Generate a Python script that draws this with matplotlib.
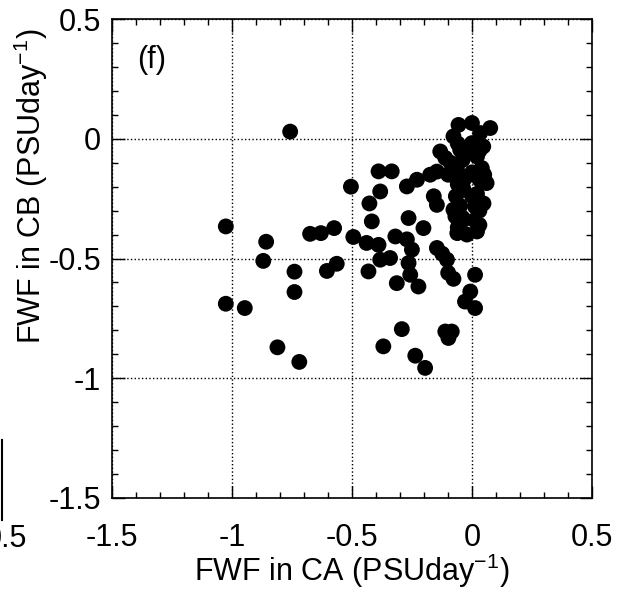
import numpy as np
import matplotlib
matplotlib.use('Agg')
import matplotlib.pyplot as plt
from matplotlib.ticker import MultipleLocator, FuncFormatter
from matplotlib.lines import Line2D

plt.rcParams['font.family'] = ['Liberation Sans', 'DejaVu Sans']

# FWF in CA (x) and FWF in CB (y), PSU/day
fwf_ca = [-1.026, -0.858, -0.870, -0.675, -0.630, -0.575, -0.740, -0.605, -0.564, -0.740,
          -1.026, -0.947, -0.811, -0.720, -0.758, -0.505, -0.495,
          -0.390, -0.335, -0.383, -0.428, -0.418, -0.440, -0.390, -0.265, -0.203,
          -0.272, -0.230, -0.175, -0.160, -0.147, -0.320, -0.272, -0.251, -0.147,
          -0.125, -0.105, -0.432, -0.383, -0.342, -0.265, -0.258, -0.314, -0.224,
          -0.100, -0.078,
          0.012, -0.008, -0.030, 0.012, -0.293, -0.112, -0.085, -0.099, -0.370,
          -0.237, -0.196,
          -0.062, -0.022, 0.020, -0.036, -0.070, 0.047, 0.060, -0.068, -0.133,
          -0.057, -0.001, 0.075, 0.033, -0.078, -0.050, 0.020, -0.064, 0.040,
          -0.147, -0.036, -0.030, 0.012, -0.078, -0.001, 0.046, -0.040, -0.112,
          -0.090, -0.020, 0.030, -0.060, 0.000, -0.100,
          -0.060, 0.030, -0.060, 0.000, 0.050, -0.040, 0.020, -0.050, 0.030,
          -0.040, 0.010, -0.060, 0.030]
fwf_cb = [-0.366, -0.430, -0.510, -0.397, -0.394, -0.373, -0.555, -0.552, -0.522, -0.640,
          -0.689, -0.707, -0.871, -0.932, 0.030, -0.200, -0.410,
          -0.136, -0.136, -0.220, -0.270, -0.345, -0.435, -0.443, -0.331, -0.373,
          -0.199, -0.171, -0.150, -0.240, -0.276, -0.408, -0.420, -0.463, -0.456,
          -0.480, -0.505, -0.554, -0.505, -0.498, -0.519, -0.568, -0.603, -0.617,
          -0.560, -0.585,
          -0.568, -0.638, -0.680, -0.707, -0.795, -0.805, -0.805, -0.832, -0.867,
          -0.906, -0.957,
          -0.394, -0.400, -0.387, -0.338, -0.324, -0.270, -0.185, -0.240, -0.053,
          0.058, 0.066, 0.045, 0.024, 0.010, -0.046, -0.074, -0.116, -0.122,
          -0.137, -0.213, -0.164, -0.283, -0.296, -0.018, -0.032, -0.088, -0.080,
          -0.100, -0.050, -0.170, -0.190, -0.240, -0.150,
          -0.020, -0.050, -0.140, -0.140, -0.150, -0.200, -0.230, -0.280, -0.300,
          -0.330, -0.340, -0.370, -0.360]

tick_fmt = FuncFormatter(lambda v, p: '0' if abs(v) < 1e-9 else '%g' % v)

fig = plt.figure(figsize=(6.27, 5.97), dpi=100)
ax = fig.add_axes([0.1786, 0.166, 0.766, 0.802])

ax.scatter(fwf_ca, fwf_cb, s=130, color='black', edgecolors='none', zorder=3)

ax.set_xlim(-1.5, 0.5)
ax.set_ylim(-1.5, 0.5)
ax.xaxis.set_major_locator(MultipleLocator(0.5))
ax.yaxis.set_major_locator(MultipleLocator(0.5))
ax.xaxis.set_minor_locator(MultipleLocator(0.1))
ax.yaxis.set_minor_locator(MultipleLocator(0.1))
ax.xaxis.set_major_formatter(tick_fmt)
ax.yaxis.set_major_formatter(tick_fmt)

ax.tick_params(which='both', direction='in', top=True, right=True, width=1.0)
ax.tick_params(which='major', length=9, labelsize=22)
ax.tick_params(axis='x', which='major', pad=18)
ax.tick_params(axis='y', which='major', pad=8)
ax.tick_params(which='minor', length=4)
ax.grid(True, which='major', linestyle=':', color='black', linewidth=1.0)
for sp in ax.spines.values():
    sp.set_linewidth(1.2)

ax.set_xlabel('FWF in CA (PSUday$^{\\mathregular{-1}}$)', fontsize=22)
ax.set_ylabel('FWF in CB (PSUday$^{\\mathregular{-1}}$)', fontsize=22)
ax.xaxis.label.set_va('center')
ax.yaxis.label.set_va('center')
ax.xaxis.set_label_coords(0.5, -0.152)
ax.yaxis.set_label_coords(-0.169, 0.65)

ax.text(0.052, 0.914, '(f)', transform=ax.transAxes, fontsize=22, va='center', ha='left')

# remnants of the neighbouring panel at the left edge
fig.text(27 / 627, 1 - 539 / 597, '0.5', fontsize=22, ha='right', va='center')
fig.add_artist(Line2D([2 / 627, 2 / 627], [1 - 440 / 597, 1 - 520 / 597],
                      transform=fig.transFigure, color='black', linewidth=1.5))

plt.savefig('out.png', dpi=100)
plt.close()
